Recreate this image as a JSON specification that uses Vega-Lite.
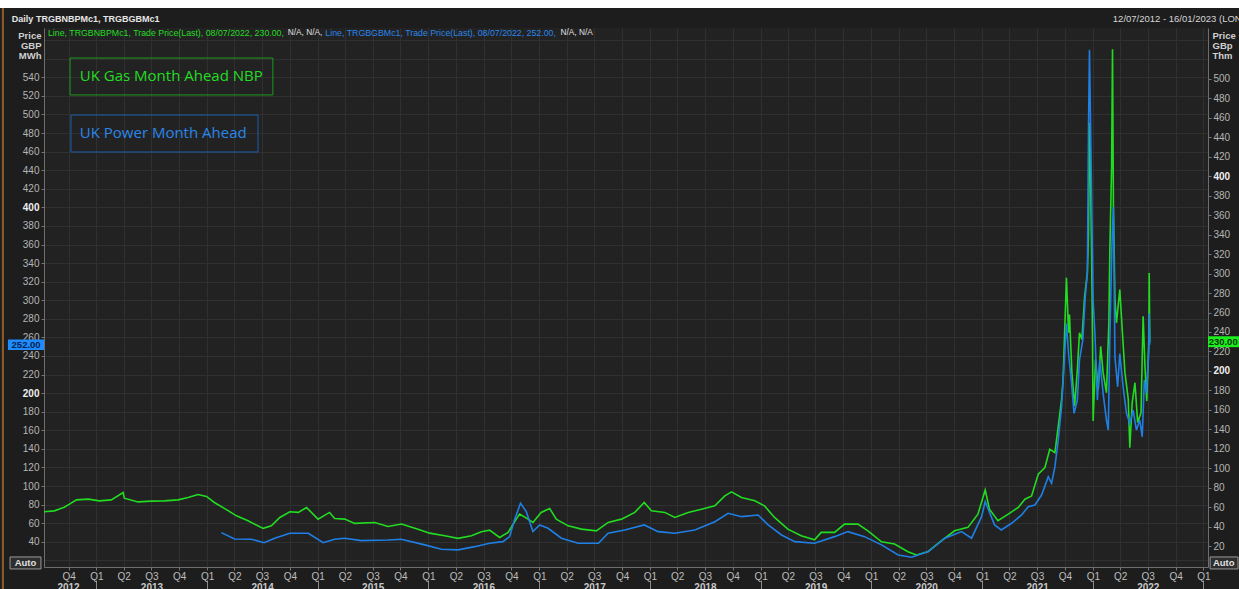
{
  "$schema": "https://vega.github.io/schema/vega-lite/v6.json",
  "width": 1164,
  "height": 539,
  "autosize": {"type": "none"},
  "padding": {"left": 44, "top": 28, "right": 31, "bottom": 22},
  "background": "#1d1d1d",
  "config": {"view": {"stroke": null, "fill": "#222222"}, "font": "Liberation Sans"},
  "datasets": {
    "gas": [
      {"date": "2012-07-12", "value": 55.2}, {"date": "2012-08-15", "value": 56.2}, {"date": "2012-09-17", "value": 60.0},
      {"date": "2012-10-04", "value": 63.1}, {"date": "2012-10-27", "value": 67.5}, {"date": "2012-12-05", "value": 68.2},
      {"date": "2013-01-11", "value": 66.5}, {"date": "2013-02-19", "value": 67.5}, {"date": "2013-03-30", "value": 75.1},
      {"date": "2013-04-03", "value": 69.2}, {"date": "2013-05-18", "value": 65.4}, {"date": "2013-07-01", "value": 66.2},
      {"date": "2013-08-13", "value": 66.5}, {"date": "2013-09-27", "value": 67.5}, {"date": "2013-10-30", "value": 69.9},
      {"date": "2013-12-02", "value": 73.0}, {"date": "2013-12-30", "value": 71.0}, {"date": "2014-01-25", "value": 64.8},
      {"date": "2014-02-27", "value": 58.7}, {"date": "2014-04-08", "value": 51.1}, {"date": "2014-05-16", "value": 46.0},
      {"date": "2014-07-05", "value": 38.2}, {"date": "2014-08-01", "value": 40.8}, {"date": "2014-08-29", "value": 49.4},
      {"date": "2014-10-01", "value": 55.2}, {"date": "2014-10-29", "value": 54.6}, {"date": "2014-11-25", "value": 59.7},
      {"date": "2015-01-02", "value": 47.7}, {"date": "2015-02-09", "value": 54.6}, {"date": "2015-02-26", "value": 48.4},
      {"date": "2015-03-31", "value": 47.7}, {"date": "2015-05-03", "value": 43.3}, {"date": "2015-07-08", "value": 44.3},
      {"date": "2015-08-21", "value": 40.2}, {"date": "2015-10-04", "value": 42.6}, {"date": "2015-11-28", "value": 37.4},
      {"date": "2016-01-05", "value": 33.3}, {"date": "2016-02-24", "value": 30.6}, {"date": "2016-04-08", "value": 27.9},
      {"date": "2016-05-22", "value": 30.6}, {"date": "2016-06-24", "value": 34.7}, {"date": "2016-07-21", "value": 36.4},
      {"date": "2016-08-23", "value": 28.9}, {"date": "2016-09-20", "value": 34.1}, {"date": "2016-10-17", "value": 47.7},
      {"date": "2016-10-28", "value": 52.8}, {"date": "2016-11-25", "value": 47.7}, {"date": "2016-12-11", "value": 44.3},
      {"date": "2017-01-07", "value": 54.6}, {"date": "2017-02-04", "value": 58.7}, {"date": "2017-02-26", "value": 47.7},
      {"date": "2017-04-06", "value": 40.8}, {"date": "2017-05-20", "value": 37.4}, {"date": "2017-07-08", "value": 35.7},
      {"date": "2017-08-16", "value": 44.3}, {"date": "2017-09-29", "value": 47.7}, {"date": "2017-11-12", "value": 54.6},
      {"date": "2017-12-13", "value": 64.8}, {"date": "2018-01-06", "value": 56.2}, {"date": "2018-02-19", "value": 54.6},
      {"date": "2018-03-24", "value": 49.4}, {"date": "2018-05-07", "value": 54.6}, {"date": "2018-06-20", "value": 57.9},
      {"date": "2018-08-03", "value": 61.3}, {"date": "2018-09-05", "value": 71.6}, {"date": "2018-09-27", "value": 75.7},
      {"date": "2018-10-30", "value": 69.9}, {"date": "2018-12-13", "value": 66.5}, {"date": "2019-01-14", "value": 61.3},
      {"date": "2019-02-16", "value": 49.4}, {"date": "2019-04-01", "value": 37.4}, {"date": "2019-05-15", "value": 30.6},
      {"date": "2019-06-28", "value": 26.5}, {"date": "2019-07-20", "value": 34.1}, {"date": "2019-09-02", "value": 34.1},
      {"date": "2019-10-05", "value": 42.6}, {"date": "2019-11-18", "value": 42.6}, {"date": "2019-12-21", "value": 35.7},
      {"date": "2020-02-04", "value": 24.4}, {"date": "2020-03-18", "value": 22.1}, {"date": "2020-05-01", "value": 14.2},
      {"date": "2020-05-29", "value": 10.8}, {"date": "2020-07-06", "value": 14.2}, {"date": "2020-08-19", "value": 25.4},
      {"date": "2020-10-02", "value": 35.7}, {"date": "2020-11-15", "value": 39.2}, {"date": "2020-12-18", "value": 52.8},
      {"date": "2021-01-11", "value": 77.7}, {"date": "2021-01-25", "value": 57.9}, {"date": "2021-02-22", "value": 46.0},
      {"date": "2021-03-28", "value": 52.8}, {"date": "2021-04-30", "value": 59.7}, {"date": "2021-05-22", "value": 68.2},
      {"date": "2021-06-13", "value": 71.6}, {"date": "2021-07-05", "value": 93.8}, {"date": "2021-07-27", "value": 100.7},
      {"date": "2021-08-12", "value": 119.5}, {"date": "2021-08-29", "value": 116.1}, {"date": "2021-09-09", "value": 143.4},
      {"date": "2021-09-20", "value": 170.8}, {"date": "2021-09-25", "value": 191.3}, {"date": "2021-09-30", "value": 239.2},
      {"date": "2021-10-06", "value": 295.6}, {"date": "2021-10-13", "value": 239.2}, {"date": "2021-10-16", "value": 258.0},
      {"date": "2021-10-24", "value": 198.2}, {"date": "2021-11-02", "value": 163.9}, {"date": "2021-11-11", "value": 201.5},
      {"date": "2021-11-18", "value": 239.2}, {"date": "2021-11-26", "value": 232.3}, {"date": "2021-12-05", "value": 276.7},
      {"date": "2021-12-14", "value": 300.7}, {"date": "2021-12-18", "value": 341.7}, {"date": "2021-12-21", "value": 455.0},
      {"date": "2021-12-23", "value": 440.0}, {"date": "2021-12-27", "value": 341.7}, {"date": "2021-12-30", "value": 266.5},
      {"date": "2022-01-02", "value": 148.5}, {"date": "2022-01-10", "value": 211.8}, {"date": "2022-01-19", "value": 181.0},
      {"date": "2022-01-27", "value": 225.4}, {"date": "2022-02-04", "value": 198.2}, {"date": "2022-02-15", "value": 177.6},
      {"date": "2022-02-23", "value": 249.4}, {"date": "2022-02-26", "value": 321.2}, {"date": "2022-03-04", "value": 410.0},
      {"date": "2022-03-07", "value": 530.5}, {"date": "2022-03-10", "value": 369.0}, {"date": "2022-03-15", "value": 273.3},
      {"date": "2022-03-20", "value": 249.4}, {"date": "2022-03-31", "value": 283.6}, {"date": "2022-04-08", "value": 242.6},
      {"date": "2022-04-17", "value": 198.2}, {"date": "2022-04-28", "value": 170.8}, {"date": "2022-05-03", "value": 121.2},
      {"date": "2022-05-11", "value": 167.4}, {"date": "2022-05-20", "value": 187.9}, {"date": "2022-05-29", "value": 146.9},
      {"date": "2022-06-09", "value": 157.1}, {"date": "2022-06-16", "value": 256.2}, {"date": "2022-06-22", "value": 204.9},
      {"date": "2022-06-28", "value": 169.0}, {"date": "2022-07-05", "value": 235.7}, {"date": "2022-07-06", "value": 300.7},
      {"date": "2022-07-08", "value": 230.0}
    ],
    "power": [
      {"date": "2014-02-17", "value": 49.8}, {"date": "2014-04-02", "value": 43.0}, {"date": "2014-05-27", "value": 42.7},
      {"date": "2014-07-08", "value": 39.0}, {"date": "2014-08-12", "value": 43.8}, {"date": "2014-10-01", "value": 49.1},
      {"date": "2014-12-01", "value": 49.1}, {"date": "2015-01-19", "value": 39.0}, {"date": "2015-02-26", "value": 42.7},
      {"date": "2015-03-31", "value": 43.8}, {"date": "2015-05-25", "value": 41.2}, {"date": "2015-08-21", "value": 41.9},
      {"date": "2015-10-04", "value": 42.7}, {"date": "2015-12-20", "value": 36.6}, {"date": "2016-02-13", "value": 31.9},
      {"date": "2016-04-08", "value": 31.2}, {"date": "2016-06-02", "value": 34.7}, {"date": "2016-07-21", "value": 38.4},
      {"date": "2016-09-03", "value": 40.1}, {"date": "2016-09-25", "value": 45.5}, {"date": "2016-10-11", "value": 63.4},
      {"date": "2016-10-31", "value": 81.4}, {"date": "2016-11-19", "value": 72.4}, {"date": "2016-12-11", "value": 50.9},
      {"date": "2017-01-02", "value": 58.1}, {"date": "2017-01-30", "value": 54.5}, {"date": "2017-03-15", "value": 43.8},
      {"date": "2017-05-09", "value": 38.4}, {"date": "2017-07-15", "value": 38.4}, {"date": "2017-08-16", "value": 49.1},
      {"date": "2017-10-10", "value": 52.7}, {"date": "2017-12-13", "value": 58.1}, {"date": "2018-01-28", "value": 50.9},
      {"date": "2018-03-24", "value": 49.1}, {"date": "2018-05-29", "value": 52.7}, {"date": "2018-08-03", "value": 61.6},
      {"date": "2018-09-16", "value": 70.6}, {"date": "2018-10-30", "value": 67.0}, {"date": "2018-12-24", "value": 68.8},
      {"date": "2019-01-26", "value": 58.1}, {"date": "2019-03-11", "value": 47.3}, {"date": "2019-04-24", "value": 40.1},
      {"date": "2019-06-28", "value": 38.4}, {"date": "2019-09-02", "value": 45.5}, {"date": "2019-10-16", "value": 50.9},
      {"date": "2019-12-10", "value": 45.5}, {"date": "2020-02-04", "value": 36.6}, {"date": "2020-03-30", "value": 25.8},
      {"date": "2020-05-13", "value": 23.3}, {"date": "2020-07-07", "value": 29.4}, {"date": "2020-08-31", "value": 43.8},
      {"date": "2020-10-25", "value": 50.9}, {"date": "2020-11-27", "value": 43.8}, {"date": "2020-12-30", "value": 67.0},
      {"date": "2021-01-11", "value": 83.1}, {"date": "2021-02-11", "value": 58.1}, {"date": "2021-03-05", "value": 52.7},
      {"date": "2021-04-08", "value": 59.9}, {"date": "2021-05-11", "value": 68.8}, {"date": "2021-06-02", "value": 77.7},
      {"date": "2021-06-24", "value": 79.6}, {"date": "2021-07-16", "value": 90.3}, {"date": "2021-08-07", "value": 110.0},
      {"date": "2021-08-18", "value": 102.9}, {"date": "2021-08-29", "value": 120.8}, {"date": "2021-09-09", "value": 149.5},
      {"date": "2021-09-20", "value": 185.3}, {"date": "2021-09-29", "value": 235.5}, {"date": "2021-10-06", "value": 274.9},
      {"date": "2021-10-13", "value": 242.7}, {"date": "2021-10-22", "value": 214.0}, {"date": "2021-10-31", "value": 178.2},
      {"date": "2021-11-11", "value": 192.5}, {"date": "2021-11-18", "value": 235.5}, {"date": "2021-11-29", "value": 257.0},
      {"date": "2021-12-07", "value": 303.5}, {"date": "2021-12-14", "value": 328.7}, {"date": "2021-12-18", "value": 490.0},
      {"date": "2021-12-21", "value": 569.6}, {"date": "2021-12-27", "value": 436.2}, {"date": "2022-01-02", "value": 300.0},
      {"date": "2022-01-08", "value": 264.2}, {"date": "2022-01-16", "value": 192.5}, {"date": "2022-01-24", "value": 235.5},
      {"date": "2022-02-04", "value": 199.7}, {"date": "2022-02-15", "value": 171.0}, {"date": "2022-02-21", "value": 160.2},
      {"date": "2022-02-26", "value": 257.0}, {"date": "2022-03-06", "value": 371.7}, {"date": "2022-03-10", "value": 400.3},
      {"date": "2022-03-15", "value": 239.0}, {"date": "2022-03-24", "value": 206.8}, {"date": "2022-03-31", "value": 242.7},
      {"date": "2022-04-11", "value": 206.8}, {"date": "2022-04-22", "value": 178.2}, {"date": "2022-05-03", "value": 167.4},
      {"date": "2022-05-14", "value": 181.7}, {"date": "2022-05-25", "value": 160.2}, {"date": "2022-06-05", "value": 171.0},
      {"date": "2022-06-13", "value": 153.0}, {"date": "2022-06-20", "value": 214.0}, {"date": "2022-06-27", "value": 199.7},
      {"date": "2022-07-05", "value": 246.2}, {"date": "2022-07-06", "value": 285.7}, {"date": "2022-07-08", "value": 252.0}
    ]
  },
  "layer": [
    {
      "layer": [
        {
          "data": {"name": "gas"},
          "mark": {"type": "line", "color": "#22dc22", "strokeWidth": 1.6},
          "encoding": {
            "x": {
              "field": "date", "type": "temporal",
              "scale": {"type": "utc", "domain": [{"year": 2012, "month": 7, "date": 12, "utc": true}, {"year": 2023, "month": 1, "date": 16, "utc": true}]},
              "axis": {
                "orient": "bottom", "offset": 13,
                "values": [
                  {"year": 2012, "month": 7, "date": 12, "utc": true}, {"year": 2013, "month": 1, "date": 1, "utc": true},
                  {"year": 2014, "month": 1, "date": 1, "utc": true}, {"year": 2015, "month": 1, "date": 1, "utc": true},
                  {"year": 2016, "month": 1, "date": 1, "utc": true}, {"year": 2017, "month": 1, "date": 1, "utc": true},
                  {"year": 2018, "month": 1, "date": 1, "utc": true}, {"year": 2019, "month": 1, "date": 1, "utc": true},
                  {"year": 2020, "month": 1, "date": 1, "utc": true}, {"year": 2021, "month": 1, "date": 1, "utc": true},
                  {"year": 2022, "month": 1, "date": 1, "utc": true}, {"year": 2023, "month": 1, "date": 1, "utc": true}
                ],
                "tickCount": 50,
                "labelExpr": "utcyear(datum.value) > 2022 ? '' : '' + utcyear(datum.value)",
                "labelOffset": {"condition": {"test": "utcyear(datum.value) == 2012", "value": 24}, "value": 55},
                "tickOpacity": {"condition": {"test": "utcyear(datum.value) == 2012", "value": 0}, "value": 1},
                "tickSize": 9, "tickColor": "#8a8a8a", "domain": false, "grid": false,
                "labelPadding": -7, "labelColor": "#c8c8c8", "labelFontWeight": "bold", "labelFontSize": 10,
                "labelOverlap": false, "labelBound": false, "labelFlush": false, "title": null
              }
            },
            "y": {
              "field": "value", "type": "quantitative",
              "scale": {"domain": [-1.5, 552.4], "nice": false, "zero": false},
              "axis": {
                "orient": "right",
                "values": [20, 40, 60, 80, 100, 120, 140, 160, 180, 200, 220, 240, 260, 280, 300, 320, 340, 360, 380, 400, 420, 440, 460, 480, 500],
                "tickCount": 100,
                "grid": false, "domainColor": "#6e6e6e", "tickColor": "#777777", "tickSize": 3,
                "labelOverlap": false, "labelBound": false,
                "labelColor": {"condition": {"test": "datum.value % 200 == 0", "value": "#eeeeee"}, "value": "#b5b5b5"},
                "labelFontWeight": {"condition": {"test": "datum.value % 200 == 0", "value": "bold"}, "value": "normal"},
                "labelFontSize": 10, "labelPadding": 2,
                "title": ["Price", "GBp", "Thm"], "titleAngle": 0, "titleAlign": "left", "titleBaseline": "top",
                "titleX": 4, "titleY": 2, "titleFontSize": 9.5, "titleFontWeight": "bold", "titleColor": "#d0d0d0", "titleLineHeight": 10
              }
            }
          }
        },
        {
          "data": {"values": [{}]},
          "mark": {"type": "rect", "fill": "#1cf01c"},
          "encoding": {
            "x": {"datum": {"year": 2023, "month": 1, "date": 16, "utc": true}, "type": "temporal"},
            "x2": {"datum": {"year": 2023, "month": 4, "date": 28, "utc": true}},
            "y": {"datum": 224.4}, "y2": {"datum": 235.6}
          }
        },
        {
          "data": {"values": [{}]},
          "mark": {"type": "text", "text": "230.00", "color": "#0a300a", "fontSize": 9.5, "fontWeight": "bold", "align": "center", "baseline": "middle"},
          "encoding": {
            "x": {"datum": {"year": 2023, "month": 3, "date": 7, "utc": true}, "type": "temporal"},
            "y": {"datum": 230}
          }
        }
      ]
    },
    {
      "layer": [
        {
          "data": {"name": "power"},
          "mark": {"type": "line", "color": "#1f7fe4", "strokeWidth": 1.6},
          "encoding": {
            "x": {
              "field": "date", "type": "temporal",
              "scale": {"type": "utc", "domain": [{"year": 2012, "month": 7, "date": 12, "utc": true}, {"year": 2023, "month": 1, "date": 16, "utc": true}]},
              "axis": {
                "orient": "bottom",
                "tickCount": {"interval": "month", "step": 3},
                "labelExpr": "'Q' + utcquarter(datum.value)",
                "grid": true, "gridColor": "#303030", "tickSize": 3, "tickColor": "#777777", "domainColor": "#6e6e6e",
                "labelColor": "#bdbdbd", "labelFontSize": 10, "labelPadding": 1,
                "labelOverlap": false, "labelFlush": false, "title": null
              }
            },
            "y": {
              "field": "value", "type": "quantitative",
              "scale": {"domain": [12.8, 593.1], "nice": false, "zero": false},
              "axis": {
                "orient": "left",
                "values": [20, 40, 60, 80, 100, 120, 140, 160, 180, 200, 220, 240, 260, 280, 300, 320, 340, 360, 380, 400, 420, 440, 460, 480, 500, 520, 540, 560, 580],
                "tickCount": 100,
                "labelExpr": "datum.value >= 40 && datum.value <= 540 ? datum.label : ''",
                "tickOpacity": {"condition": {"test": "datum.value < 40 || datum.value > 540", "value": 0}, "value": 1},
                "labelOverlap": false, "labelBound": false,
                "grid": true, "gridColor": "#303030", "domainColor": "#6e6e6e", "tickColor": "#777777", "tickSize": 3,
                "labelColor": {"condition": {"test": "datum.value % 200 == 0", "value": "#eeeeee"}, "value": "#b5b5b5"},
                "labelFontWeight": {"condition": {"test": "datum.value % 200 == 0", "value": "bold"}, "value": "normal"},
                "labelFontSize": 10, "labelPadding": 2,
                "title": ["Price", "GBP", "MWh"], "titleAngle": 0, "titleAlign": "right", "titleBaseline": "top",
                "titleX": -3, "titleY": 2, "titleFontSize": 9.5, "titleFontWeight": "bold", "titleColor": "#d0d0d0", "titleLineHeight": 10
              }
            }
          }
        },
        {
          "data": {"values": [{}]},
          "mark": {"type": "rect", "fill": "#ffffff"},
          "encoding": {
            "x": {"datum": {"year": 2012, "month": 1, "date": 1, "utc": true}, "type": "temporal"},
            "x2": {"datum": {"year": 2023, "month": 7, "date": 1, "utc": true}},
            "y": {"datum": 614.6}, "y2": {"datum": 630}
          }
        },
        {
          "data": {"values": [{}]},
          "mark": {"type": "rect", "fill": "#8a5a2a"},
          "encoding": {
            "x": {"datum": {"year": 2012, "month": 2, "date": 24, "utc": true}, "type": "temporal"},
            "x2": {"datum": {"year": 2012, "month": 3, "date": 2, "utc": true}},
            "y": {"datum": 614.6}, "y2": {"datum": -12}
          }
        },
        {
          "data": {"values": [{}]},
          "mark": {"type": "text", "text": "Daily TRGBNBPMc1, TRGBGBMc1", "color": "#e6e6e6", "fontSize": 9, "fontWeight": "bold", "align": "left", "baseline": "middle"},
          "encoding": {
            "x": {"datum": {"year": 2012, "month": 3, "date": 28, "utc": true}, "type": "temporal"},
            "y": {"datum": 602.8}
          }
        },
        {
          "data": {"values": [{}]},
          "mark": {"type": "text", "text": "12/07/2012 - 16/01/2023 (LON", "color": "#d6d6d6", "fontSize": 9.5, "align": "left", "baseline": "middle"},
          "encoding": {
            "x": {"datum": {"year": 2022, "month": 3, "date": 8, "utc": true}, "type": "temporal"},
            "y": {"datum": 602.8}
          }
        },
        {
          "data": {"values": [{}]},
          "mark": {"type": "text", "text": "Line, TRGBNBPMc1, Trade Price(Last), 08/07/2022, 230.00,", "color": "#22dc22", "fontSize": 8.8, "align": "left", "baseline": "middle"},
          "encoding": {
            "x": {"datum": {"year": 2012, "month": 7, "date": 25, "utc": true}, "type": "temporal"},
            "y": {"datum": 587.2}
          }
        },
        {
          "data": {"values": [{}]},
          "mark": {"type": "text", "text": "N/A, N/A,", "color": "#e0e0e0", "fontSize": 8.3, "align": "left", "baseline": "middle"},
          "encoding": {
            "x": {"datum": {"year": 2014, "month": 9, "date": 24, "utc": true}, "type": "temporal"},
            "y": {"datum": 587.2}
          }
        },
        {
          "data": {"values": [{}]},
          "mark": {"type": "text", "text": "Line, TRGBGBMc1, Trade Price(Last), 08/07/2022, 252.00,", "color": "#2a86ea", "fontSize": 8.8, "align": "left", "baseline": "middle"},
          "encoding": {
            "x": {"datum": {"year": 2015, "month": 1, "date": 26, "utc": true}, "type": "temporal"},
            "y": {"datum": 587.2}
          }
        },
        {
          "data": {"values": [{}]},
          "mark": {"type": "text", "text": "N/A, N/A", "color": "#e0e0e0", "fontSize": 8.3, "align": "left", "baseline": "middle"},
          "encoding": {
            "x": {"datum": {"year": 2017, "month": 3, "date": 12, "utc": true}, "type": "temporal"},
            "y": {"datum": 587.2}
          }
        },
        {
          "data": {"values": [{}]},
          "mark": {"type": "rect", "fill": "transparent", "stroke": "#1c9a1c", "strokeWidth": 1},
          "encoding": {
            "x": {"datum": {"year": 2012, "month": 10, "date": 6, "utc": true}, "type": "temporal"},
            "x2": {"datum": {"year": 2014, "month": 8, "date": 6, "utc": true}},
            "y": {"datum": 560.8}, "y2": {"datum": 521.0}
          }
        },
        {
          "data": {"values": [{}]},
          "mark": {"type": "text", "text": "UK Gas Month Ahead NBP", "color": "#22dc22", "fontSize": 15, "font": "Open Sans", "align": "left", "baseline": "middle"},
          "encoding": {
            "x": {"datum": {"year": 2012, "month": 11, "date": 7, "utc": true}, "type": "temporal"},
            "y": {"datum": 541.4}
          }
        },
        {
          "data": {"values": [{}]},
          "mark": {"type": "rect", "fill": "transparent", "stroke": "#1a5fae", "strokeWidth": 1},
          "encoding": {
            "x": {"datum": {"year": 2012, "month": 10, "date": 9, "utc": true}, "type": "temporal"},
            "x2": {"datum": {"year": 2014, "month": 6, "date": 18, "utc": true}},
            "y": {"datum": 499.4}, "y2": {"datum": 459.6}
          }
        },
        {
          "data": {"values": [{}]},
          "mark": {"type": "text", "text": "UK Power Month Ahead", "color": "#2a86ea", "fontSize": 15, "font": "Open Sans", "align": "left", "baseline": "middle"},
          "encoding": {
            "x": {"datum": {"year": 2012, "month": 11, "date": 7, "utc": true}, "type": "temporal"},
            "y": {"datum": 480.1}
          }
        },
        {
          "data": {"values": [{}]},
          "mark": {"type": "rect", "fill": "#1e8cff"},
          "encoding": {
            "x": {"datum": {"year": 2012, "month": 3, "date": 15, "utc": true}, "type": "temporal"},
            "x2": {"datum": {"year": 2012, "month": 7, "date": 12, "utc": true}},
            "y": {"datum": 246.4}, "y2": {"datum": 257.6}
          }
        },
        {
          "data": {"values": [{}]},
          "mark": {"type": "text", "text": "252.00", "color": "#06224f", "fontSize": 9.5, "fontWeight": "bold", "align": "center", "baseline": "middle"},
          "encoding": {
            "x": {"datum": {"year": 2012, "month": 5, "date": 14, "utc": true}, "type": "temporal"},
            "y": {"datum": 252}
          }
        },
        {
          "data": {"values": [{}]},
          "mark": {"type": "rect", "fill": "#2e2e2e", "stroke": "#9a9a9a", "strokeWidth": 1},
          "encoding": {
            "x": {"datum": {"year": 2012, "month": 3, "date": 22, "utc": true}, "type": "temporal"},
            "x2": {"datum": {"year": 2012, "month": 7, "date": 2, "utc": true}},
            "y": {"datum": 23.6}, "y2": {"datum": 10.7}
          }
        },
        {
          "data": {"values": [{}]},
          "mark": {"type": "text", "text": "Auto", "color": "#e0e0e0", "fontSize": 9.5, "fontWeight": "bold", "align": "center", "baseline": "middle"},
          "encoding": {
            "x": {"datum": {"year": 2012, "month": 5, "date": 12, "utc": true}, "type": "temporal"},
            "y": {"datum": 17.1}
          }
        },
        {
          "data": {"values": [{}]},
          "mark": {"type": "rect", "fill": "#2e2e2e", "stroke": "#9a9a9a", "strokeWidth": 1},
          "encoding": {
            "x": {"datum": {"year": 2023, "month": 1, "date": 23, "utc": true}, "type": "temporal"},
            "x2": {"datum": {"year": 2023, "month": 4, "date": 25, "utc": true}},
            "y": {"datum": 23.6}, "y2": {"datum": 10.7}
          }
        },
        {
          "data": {"values": [{}]},
          "mark": {"type": "text", "text": "Auto", "color": "#e0e0e0", "fontSize": 9.5, "fontWeight": "bold", "align": "center", "baseline": "middle"},
          "encoding": {
            "x": {"datum": {"year": 2023, "month": 3, "date": 9, "utc": true}, "type": "temporal"},
            "y": {"datum": 17.1}
          }
        }
      ]
    }
  ],
  "resolve": {"scale": {"y": "independent"}, "axis": {"x": "independent", "y": "independent"}}
}
